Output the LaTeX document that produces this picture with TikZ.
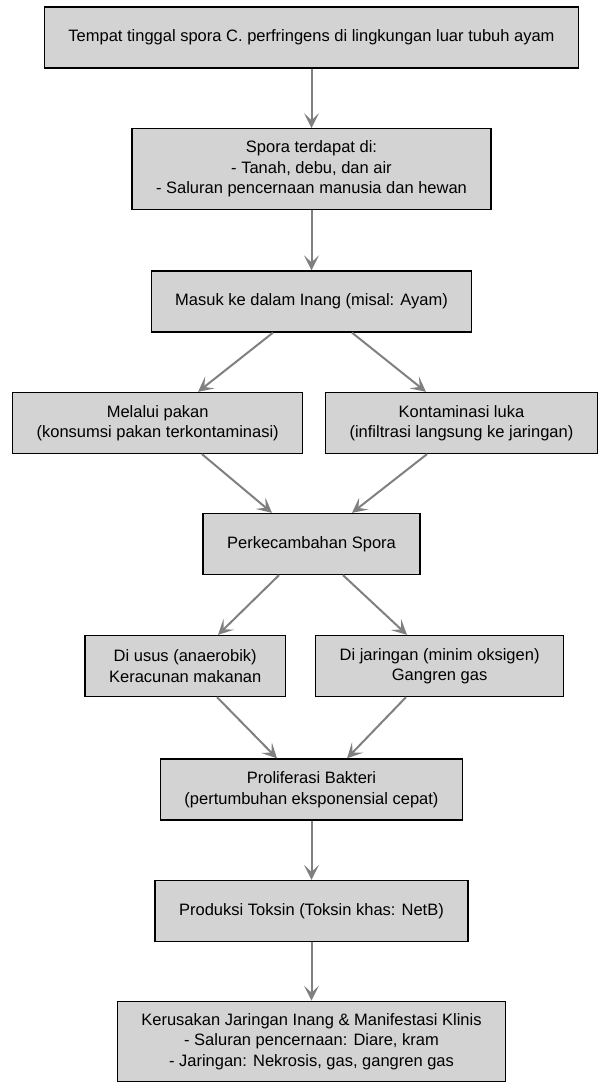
\documentclass[tikz,border=0pt]{standalone}
\usepackage{fontspec}
\setmainfont{Liberation Sans}
\usepackage{xcolor}
\usetikzlibrary{arrows.meta}
\definecolor{boxgray}{HTML}{D3D3D3}
\definecolor{edgegray}{HTML}{808080}

\begin{document}
\begin{tikzpicture}[x=1pt,y=-1pt,
            box/.style={shape=rectangle, draw=black, line width=1.3pt, fill=boxgray, align=center,
                inner xsep=24pt, inner ysep=12pt, minimum height=61pt, font=\fontsize{16.5}{20.5}\selectfont},
            link/.style={draw=edgegray, line width=2pt, -{Stealth[length=15pt,width=15pt,inset=7pt]}}]
        \useasboundingbox (0,0) rectangle (599,1083);

        \node[box] (home) at (311.5,37.5) {Tempat tinggal spora C. perfringens di lingkungan luar tubuh ayam};
        \node[box] (spore) at (311.5,169) {Spora terdapat di:\\- Tanah, debu, dan air\\- Saluran pencernaan manusia dan hewan};
        \node[box] (host) at (311.5,301.5) {Masuk ke dalam Inang (misal: Ayam)};

        \node[box,anchor=west] (feed) at (12,423) {Melalui pakan\\(konsumsi pakan terkontaminasi)};
        \node[box,anchor=east] (wound) at (598,423) {Kontaminasi luka\\(infiltrasi langsung ke jaringan)};

        \node[box] (germ) at (311.5,544) {Perkecambahan Spora};

        \node[box,anchor=east] (gut) at (286,666) {Di usus (anaerobik)\\Keracunan makanan};
        \node[box,anchor=west] (tissue) at (315,666) {Di jaringan (minim oksigen)\\Gangren gas};

        \node[box] (grow) at (311.5,789.5) {Proliferasi Bakteri\\(pertumbuhan eksponensial cepat)};
        \node[box] (toxin) at (311.5,911) {Produksi Toksin (Toksin khas: NetB)};
        \node[box] (damage) at (311.5,1041.5) {Kerusakan Jaringan Inang \& Manifestasi Klinis\\- Saluran pencernaan: Diare, kram\\- Jaringan: Nekrosis, gas, gangren gas};

        % edges
        \draw[link] (home) -- (spore);
        \draw[link] (spore) -- (host);
        \draw[link] ([xshift=-38.5pt]host.south) -- ([xshift=186pt]feed.north west);
        \draw[link] ([xshift=40.5pt]host.south) -- ([xshift=-172pt]wound.north east);
        \draw[link] ([xshift=190pt]feed.south west) -- ([xshift=-39.5pt]germ.north);
        \draw[link] ([xshift=-171pt]wound.south east) -- ([xshift=40.5pt]germ.north);
        \draw[link] ([xshift=-32.5pt]germ.south) -- ([xshift=-68pt]gut.north east);
        \draw[link] ([xshift=31.5pt]germ.south) -- ([xshift=92pt]tissue.north west);
        \draw[link] ([xshift=-69pt]gut.south east) -- ([xshift=-34.5pt]grow.north);
        \draw[link] ([xshift=91pt]tissue.south west) -- ([xshift=35.5pt]grow.north);
        \draw[link] (grow) -- (toxin);
        \draw[link] (toxin) -- (damage);
    \end{tikzpicture}
\end{document}
